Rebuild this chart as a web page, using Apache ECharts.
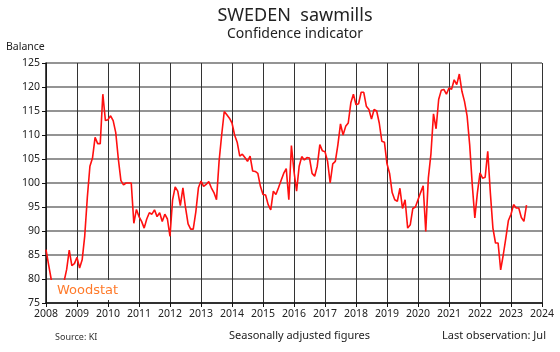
<!DOCTYPE html>
<html>
<head>
<meta charset="utf-8">
<script src="https://cdn.jsdelivr.net/npm/echarts@6/dist/echarts.min.js"></script>
<style>
  html, body { margin: 0; padding: 0; background: #fff; }
  #main { width: 560px; height: 352px; }
</style>
</head>
<body>
<div id="main"></div>
<script>
// first month of the series (Jan 2008), monthly values up to Jul 2023
var startYear = 2008;
var yearTicks = ['2008', '2009', '2010', '2011', '2012', '2013', '2014', '2015', '2016',
  '2017', '2018', '2019', '2020', '2021', '2022', '2023', '2024'];
var confidence = [
  86.1, 83, 80, 77.5, 76, 77, 78, 79.5, 82, 86, 82.8, 83.2,            // 2008
  84.5, 82.3, 84, 89, 97, 103.5, 105.2, 109.5, 108.2, 108.2, 118.5, 113, // 2009
  113.2, 114, 113, 110.5, 105, 100.5, 99.6, 100, 100, 100, 91.6, 94.5, // 2010
  93, 92, 90.6, 92.5, 93.8, 93.5, 94.4, 93, 93.8, 92, 93.5, 92.5,      // 2011
  88.9, 96.5, 99.2, 98.3, 95.3, 99, 94.9, 91.5, 90.4, 90.4, 94, 99,    // 2012
  100.4, 99.3, 99.7, 100.3, 99, 98, 96.5, 104.5, 110, 114.9, 114.2, 113.5, // 2013
  112.5, 110, 108.5, 105.6, 106, 105.3, 104.5, 105.6, 102.5, 102.4, 102, 99.3, // 2014
  97.6, 97.5, 95.5, 94.4, 98.3, 97.6, 99, 100.5, 102, 103, 96.5, 107.8, // 2015
  102.4, 98.3, 103.5, 105.5, 104.8, 105.3, 105.2, 102, 101.4, 103.5, 108, 106.7, // 2016
  106.5, 104.5, 100, 104, 104.5, 108, 112.3, 110, 111.8, 112.5, 116.7, 118.5, // 2017
  116.3, 116.5, 118.9, 118.9, 116, 115.3, 113.3, 115.3, 115, 112.5, 108.7, 108.5, // 2018
  104, 102, 98, 96.5, 96.2, 98.9, 94.7, 96.5, 90.6, 91.3, 94.7, 95,    // 2019
  96.5, 98, 99.4, 89.9, 101, 106, 114.4, 111.3, 117.4, 119.3, 119.5, 118.5, // 2020
  119.8, 119.5, 121.5, 120.5, 122.7, 119.1, 117, 114, 108, 99.7, 92.7, 98, // 2021
  102.1, 101, 101.2, 106.6, 98, 90.6, 87.5, 87.5, 81.9, 85, 88.5, 92.2, // 2022
  93.5, 95.5, 94.8, 94.8, 92.8, 92, 95.4                               // 2023
];

var points = confidence.map(function (v, i) {
  return [startYear + i / 12, v];
});

var font = 'Noto Sans';
var chart = echarts.init(document.getElementById('main'));
chart.setOption({
  animation: false,
  backgroundColor: '#fff',
  title: [
    {
      text: 'SWEDEN  sawmills',
      left: 290, top: 2, textAlign: 'center',
      textStyle: { fontFamily: font, fontSize: 18, fontWeight: 'normal', color: '#222' }
    },
    {
      text: 'Confidence indicator',
      left: 290, top: 22, textAlign: 'center',
      textStyle: { fontFamily: font, fontSize: 14, fontWeight: 'normal', color: '#222' }
    }
  ],
  grid: { left: 46, right: 18, top: 63, bottom: 49 },
  xAxis: {
    type: 'value',
    min: 2008, max: 2024, interval: 1,
    axisLine: { show: true, onZero: false, lineStyle: { color: '#111', width: 1.5 } },
    axisTick: { show: true, length: 4, lineStyle: { color: '#111' } },
    axisLabel: {
      color: '#222', fontFamily: font, fontSize: 10.5, margin: 6,
      formatter: function (v) { return yearTicks[Math.round(v - startYear)]; }
    },
    splitLine: { show: true, lineStyle: { color: '#333', width: 1 } }
  },
  yAxis: {
    type: 'value',
    min: 75, max: 125, interval: 5,
    name: 'Balance',
    nameLocation: 'end',
    nameGap: 10,
    nameTextStyle: { fontFamily: font, fontSize: 10.5, color: '#222', align: 'left', padding: [0, 0, 0, -40] },
    axisLine: { show: true, lineStyle: { color: '#111', width: 1.5 } },
    axisTick: { show: true, length: 4, lineStyle: { color: '#111' } },
    axisLabel: { color: '#222', fontFamily: font, fontSize: 10.5, margin: 6 },
    splitLine: { show: true, lineStyle: { color: '#949494', width: 2 } }
  },
  series: [{
    type: 'line',
    data: points,
    showSymbol: false,
    lineStyle: { color: '#ff1010', width: 1.6 },
    z: 3
  }],
  graphic: [
    {
      type: 'rect', z: 100,
      shape: { x: 47, y: 280, width: 89, height: 20 },
      style: { fill: '#fff' }
    },
    {
      type: 'text', z: 101, left: 57, top: 284,
      style: { text: 'Woodstat', fill: '#ff7a2a', font: '13px "DejaVu Sans"' }
    },
    {
      type: 'text', z: 101, left: 55, top: 333,
      style: { text: 'Source: KI', fill: '#333', font: '9px "Noto Sans"' }
    },
    {
      type: 'text', z: 101, left: 229, top: 330,
      style: { text: 'Seasonally adjusted figures', fill: '#222', font: '11px "Noto Sans"' }
    },
    {
      type: 'text', z: 101, right: 14, top: 330,
      style: { text: 'Last observation: Jul', fill: '#222', font: '11px "Noto Sans"' }
    }
  ]
});
</script>
</body>
</html>
